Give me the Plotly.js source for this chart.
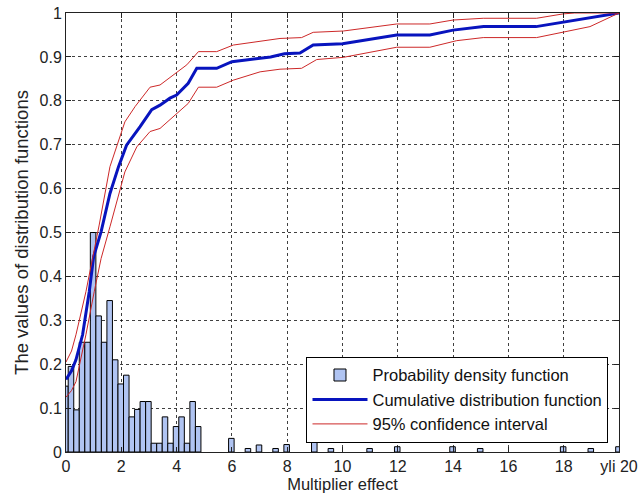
<!DOCTYPE html>
<html>
<head>
<meta charset="utf-8">
<script src="https://cdn.plot.ly/plotly-3.0.1.min.js"></script>
<style>html,body{margin:0;padding:0;background:#fff;}#chart{width:644px;height:498px;}</style>
</head>
<body>
<div id="chart"></div>
<script>
// Histogram (probability density) bin centres and heights
const pdfX = [-0.02, 0.18, 0.38, 0.58, 0.78, 0.98, 1.18, 1.38, 1.58, 1.78, 1.98, 2.18, 2.38, 2.58, 2.78, 2.98,
  3.18, 3.38, 3.58, 3.78, 3.98, 4.18, 4.38, 4.58, 4.78, 5.98, 6.58, 6.98, 7.58, 7.98, 8.98, 9.58,
  10.98, 11.98, 13.98, 14.98, 17.98, 18.98, 19.98];
const pdfY = [0.15, 0.195, 0.096, 0.25, 0.25, 0.5, 0.31, 0.25, 0.345, 0.21, 0.155, 0.175, 0.08, 0.097, 0.115, 0.115,
  0.02, 0.02, 0.08, 0.02, 0.058, 0.08, 0.02, 0.115, 0.058, 0.031, 0.008, 0.016, 0.008, 0.017, 0.03, 0.008,
  0.008, 0.012, 0.012, 0.008, 0.012, 0.008, 0.012];

// Cumulative distribution function
const cdfX = [0, 0.2, 0.36, 0.6, 0.84, 1.0, 1.27, 1.59, 1.9, 2.19, 2.68, 3.1, 3.4, 3.76, 4.0, 4.42, 4.73, 5.45,
  6.0, 7.0, 7.4, 7.9, 8.46, 8.94, 10.0, 11.96, 13.16, 14.0, 15.1, 17.0, 18.1, 18.95, 20];
const cdfY = [0.165, 0.185, 0.21, 0.267, 0.365, 0.445, 0.502, 0.589, 0.65, 0.699, 0.741, 0.78, 0.79, 0.806, 0.813, 0.84, 0.874, 0.874,
  0.889, 0.897, 0.900, 0.907, 0.909, 0.927, 0.93, 0.95, 0.95, 0.961, 0.969, 0.969, 0.98, 0.988, 1.0];

// 95% confidence interval, upper bound
const ciUpX = [0, 0.2, 0.36, 0.72, 0.96, 1.2, 1.59, 2.13, 2.5, 3.04, 3.4, 3.88, 4.37, 4.79, 5.45, 6.05, 7.02, 7.74,
  8.52, 8.94, 10.03, 11.96, 13.16, 14.0, 15.09, 17.02, 17.98, 18.4, 20];
const ciUpY = [0.205, 0.23, 0.267, 0.365, 0.441, 0.517, 0.65, 0.752, 0.787, 0.831, 0.836, 0.859, 0.882, 0.912, 0.912, 0.927, 0.935, 0.942,
  0.944, 0.956, 0.959, 0.975, 0.975, 0.984, 0.988, 0.988, 0.998, 1.0, 1.0];

// 95% confidence interval, lower bound
const ciLoX = [0, 0.2, 0.36, 0.5, 0.72, 1.02, 1.27, 1.59, 2.13, 2.56, 3.04, 3.4, 3.94, 4.42, 4.79, 5.45, 6.05, 7.02, 7.74,
  8.52, 9.07, 10.03, 11.96, 13.16, 14.13, 15.09, 17.02, 17.98, 18.95, 20];
const ciLoY = [0.125, 0.14, 0.16, 0.2, 0.267, 0.365, 0.441, 0.513, 0.638, 0.695, 0.73, 0.737, 0.768, 0.794, 0.831, 0.831, 0.847, 0.866, 0.872,
  0.874, 0.894, 0.899, 0.922, 0.922, 0.937, 0.944, 0.944, 0.956, 0.969, 1.0];

// Tick labels
const xTickVals = [0, 2, 4, 6, 8, 10, 12, 14, 16, 18, 20];
const xTickText = ['0', '2', '4', '6', '8', '10', '12', '14', '16', '18', 'yli 20'];
const yTickVals = [0, 0.1, 0.2, 0.3, 0.4, 0.5, 0.6, 0.7, 0.8, 0.9, 1];
const yTickText = ['0', '0.1', '0.2', '0.3', '0.4', '0.5', '0.6', '0.7', '0.8', '0.9', '1'];

const seriesNames = ['Probability density function', 'Cumulative distribution function', '95% confidence interval'];

const FONT = 'Liberation Sans, Arial, Helvetica, sans-serif';

const traces = [
  {
    type: 'bar', x: pdfX, y: pdfY, width: 0.2, name: seriesNames[0],
    marker: {color: 'rgb(176,196,242)', line: {color: '#000', width: 1}}
  },
  {
    type: 'scatter', mode: 'lines', x: cdfX, y: cdfY, name: seriesNames[1],
    line: {color: 'rgb(8,20,190)', width: 3}
  },
  {
    type: 'scatter', mode: 'lines', x: ciUpX, y: ciUpY, name: seriesNames[2],
    line: {color: 'rgb(205,40,40)', width: 1}, legendgroup: 'ci'
  },
  {
    type: 'scatter', mode: 'lines', x: ciLoX, y: ciLoY, name: seriesNames[2], showlegend: false,
    line: {color: 'rgb(205,40,40)', width: 1}, legendgroup: 'ci'
  }
];

const axisCommon = {
  showline: true, linecolor: '#222', linewidth: 1, mirror: 'ticks',
  ticks: 'inside', ticklen: 5, tickcolor: '#222',
  showgrid: true, gridcolor: 'rgba(0,0,0,0.75)', griddash: 'dot', gridwidth: 1,
  zeroline: false, tickfont: {family: FONT, size: 16, color: '#222'}
};

const layout = {
  width: 644, height: 498,
  margin: {l: 66, r: 25, t: 13, b: 46},
  paper_bgcolor: '#fff', plot_bgcolor: '#fff',
  bargap: 0,
  showlegend: true,
  xaxis: Object.assign({}, axisCommon, {
    range: [0, 20], tickvals: xTickVals, ticktext: xTickText,
    title: {text: 'Multiplier effect', font: {family: FONT, size: 16.5, color: '#222'}, standoff: 2}
  }),
  yaxis: Object.assign({}, axisCommon, {
    range: [0, 1], tickvals: yTickVals, ticktext: yTickText,
    title: {text: 'The values of distribution functions', font: {family: FONT, size: 18.5, color: '#222'}, standoff: 6}
  }),
  legend: {
    x: 0.981, y: 0.021, xanchor: 'right', yanchor: 'bottom',
    bgcolor: '#fff', bordercolor: '#000', borderwidth: 1,
    font: {family: FONT, size: 16.5, color: '#111'},
    tracegroupgap: 0, itemwidth: 55
  }
};

Plotly.newPlot('chart', traces, layout, {displayModeBar: false, staticPlot: true});
</script>
</body>
</html>
